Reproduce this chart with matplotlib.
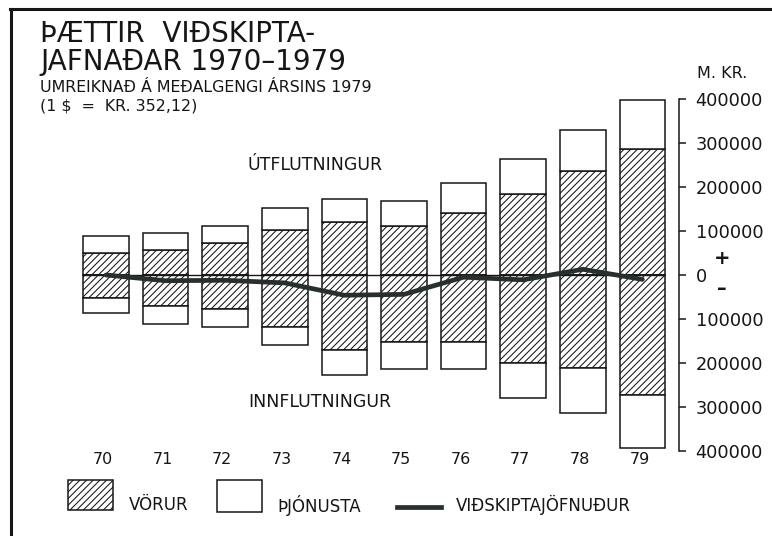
import numpy as np
import matplotlib
matplotlib.use('Agg')
import matplotlib.pyplot as plt
from matplotlib.patches import Rectangle
from matplotlib.lines import Line2D

# Values (millions of kronur, 1979 exchange rate)
years = ['70', '71', '72', '73', '74', '75', '76', '77', '78', '79']
vorur_ut = [49000, 57000, 72000, 102000, 121000, 112000, 142000, 184000, 237000, 286000]
thjonusta_ut = [40000, 38000, 39000, 50000, 52000, 57000, 68000, 80000, 93000, 112000]
vorur_inn = [51500, 70500, 78000, 119000, 170000, 153000, 153000, 201000, 212000, 273000]
thjonusta_inn = [34500, 40500, 41000, 41000, 57000, 61000, 61000, 79000, 101000, 120000]
jofnudur = [0, -13000, -12000, -18000, -46000, -44000, -5000, -11000, 13000, -10000]

yticks = [-400000, -300000, -200000, -100000, 0, 100000, 200000, 300000, 400000]

W, H = 772, 536
INK = '#161616'
LINE_C = '#27302b'
HATCH = '/////'

plt.rcParams['font.family'] = ['DejaVu Sans']
plt.rcParams['hatch.linewidth'] = 0.75
plt.rcParams['hatch.color'] = INK


def fx(px):
    return px / W


def fy(py):
    return 1 - py / H


fig = plt.figure(figsize=(W / 100, H / 100), dpi=100)
ax = fig.add_axes([0, 0, 1, 1])
# 59.6 px per bar step, 44 px per 100000, zero at 275 px from top
ax.set_xlim(-106 / 59.6, -106 / 59.6 + W / 59.6)
ax.set_ylim(275 / 44 * 1e5 - H / 44 * 1e5, 275 / 44 * 1e5)

x = np.arange(len(years))
bw = 0.763
vu = np.array(vorur_ut)
vi = -np.array(vorur_inn)

ax.bar(x, vu, bw, color='white', edgecolor=INK, hatch=HATCH, linewidth=1.1)
ax.bar(x, thjonusta_ut, bw, bottom=vu, color='white', edgecolor=INK, linewidth=1.1)
ax.bar(x, vi, bw, color='white', edgecolor=INK, hatch=HATCH, linewidth=1.1)
ax.bar(x, -np.array(thjonusta_inn), bw, bottom=vi, color='white', edgecolor=INK,
       linewidth=1.1)

ax.hlines(0, x[0] - bw / 2, x[-1] + bw / 2, color=INK, linewidth=1.0, zorder=4)
ax.plot(x, jofnudur, color=LINE_C, linewidth=3.4, solid_capstyle='round',
        solid_joinstyle='round', zorder=5)

# right-hand value axis
for s in ['left', 'top', 'bottom']:
    ax.spines[s].set_visible(False)
ax.spines['right'].set_position(('data', (679 - 106) / 59.6))
ax.spines['right'].set_bounds(-400000, 400000)
ax.spines['right'].set_linewidth(1.1)
ax.spines['right'].set_color(INK)
ax.set_xticks([])
ax.yaxis.tick_right()
ax.set_yticks(yticks)
ax.set_yticklabels([str(abs(v)) for v in yticks])
ax.tick_params(axis='y', direction='out', length=5, width=1.1, pad=7,
               labelsize=12.8, colors=INK)

for xi, yr in zip(x, years):
    ax.text(xi - 0.05, -420000, yr, ha='center', va='center', fontsize=11.5,
            color=INK)

ax.text((315 - 106) / 59.6, 250000, 'ÚTFLUTNINGUR', ha='center', va='center',
        fontsize=12.5, color=INK)
ax.text((320 - 106) / 59.6, -289000, 'INNFLUTNINGUR', ha='center', va='center',
        fontsize=12.5, color=INK)

# titles
fig.text(fx(40), fy(34), 'ÞÆTTIR  VIÐSKIPTA-', fontsize=20, va='center',
         color=INK)
fig.text(fx(40), fy(62), 'JAFNAÐAR 1970–1979', fontsize=20, va='center',
         color=INK)
fig.text(fx(40), fy(87), 'UMREIKNAÐ Á MEÐALGENGI ÁRSINS 1979', fontsize=11.4,
         va='center', color=INK)
fig.text(fx(40), fy(106), '(1 $  =  KR. 352,12)', fontsize=11.4, va='center',
         color=INK)
fig.text(fx(697), fy(74), 'M. KR.', fontsize=11.5, va='center', color=INK)
fig.text(fx(722), fy(259), '+', fontsize=14, va='center', ha='center',
         fontweight='bold', color=INK)
fig.text(fx(722), fy(289), '–', fontsize=14, va='center', ha='center',
         fontweight='bold', color=INK)

# frame
fig.add_artist(Line2D([fx(10), 1], [fy(9), fy(9)], color=INK, linewidth=2.2))
fig.add_artist(Line2D([fx(11), fx(11)], [0, fy(9)], color=INK, linewidth=2.2))

# key along the bottom
fig.add_artist(Rectangle((fx(68), fy(510)), 45 / W, 30 / H, facecolor='white',
                         edgecolor=INK, hatch=HATCH, linewidth=1.1,
                         transform=fig.transFigure))
fig.text(fx(129), fy(505), 'VÖRUR', fontsize=12, va='center', color=INK)
fig.add_artist(Rectangle((fx(217), fy(512)), 45 / W, 32 / H, facecolor='white',
                         edgecolor=INK, linewidth=1.1, transform=fig.transFigure))
fig.text(fx(277), fy(505), 'ÞJÓNUSTA', fontsize=12, va='center', color=INK)
fig.add_artist(Line2D([fx(397), fx(441)], [fy(507), fy(507)], color=LINE_C,
                      linewidth=3.4))
fig.text(fx(456), fy(505), 'VIÐSKIPTAJÖFNUÐUR', fontsize=12, va='center',
         color=INK)

fig.savefig('out.png', dpi=100, facecolor='white')
